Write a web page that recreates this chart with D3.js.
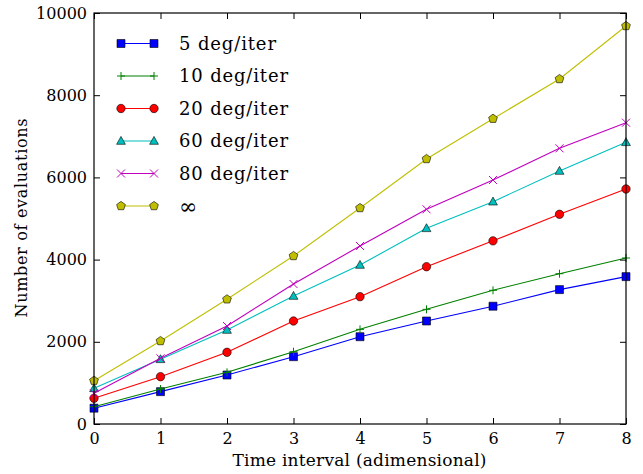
<!DOCTYPE html>
<html><head><meta charset="utf-8">
<script src="https://cdn.jsdelivr.net/npm/d3@7"></script>
<style>body{margin:0;background:#fff}svg text{font-family:"DejaVu Serif",serif;fill:#000}</style>
</head><body><svg id="c" width="643" height="474"></svg>
<script>
const xValues = [0,1,2,3,4,5,6,7,8];
const seriesNames = ["5 deg/iter","10 deg/iter","20 deg/iter","60 deg/iter","80 deg/iter","\u221E"];
const s5  = [385, 787, 1192, 1638, 2124, 2506, 2866, 3270, 3586];
const s10 = [421, 851, 1257, 1760, 2303, 2790, 3253, 3657, 4039];
const s20 = [625, 1151, 1744, 2506, 3098, 3827, 4456, 5102, 5718];
const s60 = [868, 1574, 2287, 3114, 3869, 4761, 5409, 6156, 6854];
const s80 = [747, 1598, 2384, 3406, 4331, 5224, 5937, 6708, 7331];
const sInf= [1054, 2019, 3034, 4088, 5255, 6448, 7428, 8394, 9684];
const xTicks = [0,1,2,3,4,5,6,7,8];
const yTicks = [0,2000,4000,6000,8000,10000];

const series = [s5,s10,s20,s60,s80,sInf];
const colors = ["#0000ff","#008000","#ff0000","#00bfbf","#bf00bf","#bfbf00"];
const markers = ["square","plus","circle","triangle","x","pentagon"];

const svg = d3.select("#c");
const m = {l:94, r:643-626, t:13, b:474-424};
const W = 643, H = 474;
const x = d3.scaleLinear().domain([0,8]).range([m.l, W-m.r]);
const y = d3.scaleLinear().domain([0,10000]).range([H-m.b, m.t]);

function markerPath(type){
  const s = 4;
  if(type==="square") return `M${-s},${-s}H${s}V${s}H${-s}Z`;
  if(type==="circle") return d3.symbol(d3.symbolCircle, Math.PI*4.2*4.2)();
  if(type==="triangle") return `M0,${-4.6}L${4.4},${3.3}L${-4.4},${3.3}Z`;
  if(type==="plus") return `M-4,0H4M0,-4V4`;
  if(type==="x") return `M-4,-4L4,4M-4,4L4,-4`;
  if(type==="pentagon"){
    const r=4.6; let p=[];
    for(let i=0;i<5;i++){const a=-Math.PI/2+i*2*Math.PI/5;p.push([r*Math.cos(a),r*Math.sin(a)]);}
    return "M"+p.map(d=>d.join(",")).join("L")+"Z";
  }
}
function drawMarker(g, type, color, cx, cy){
  const p = g.append("path").attr("d", markerPath(type)).attr("transform",`translate(${cx},${cy})`);
  if(type==="plus"||type==="x") p.attr("fill","none").attr("stroke",color).attr("stroke-width",1);
  else p.attr("fill",color).attr("stroke","#000").attr("stroke-width",0.6);
}

const plot = svg.append("g");
const line = d3.line().x((d,i)=>x(xValues[i])).y(d=>y(d));
series.forEach((s,k)=>{
  plot.append("path").datum(s).attr("d",line).attr("fill","none").attr("stroke",colors[k]).attr("stroke-width",1.1);
  s.forEach((v,i)=>drawMarker(plot, markers[k], colors[k], x(xValues[i]), y(v)));
});

// axes
const axB = svg.append("g").attr("transform",`translate(0,${y(0)})`)
  .call(d3.axisBottom(x).tickValues(xTicks).tickSize(-6).tickPadding(9).tickFormat(d3.format("d")));
const axT = svg.append("g").attr("transform",`translate(0,${y(10000)})`)
  .call(d3.axisTop(x).tickValues(xTicks).tickSize(-6).tickFormat(""));
const axL = svg.append("g").attr("transform",`translate(${x(0)},0)`)
  .call(d3.axisLeft(y).tickValues(yTicks).tickSize(-6).tickPadding(7).tickFormat(d3.format("d")));
const axR = svg.append("g").attr("transform",`translate(${x(8)},0)`)
  .call(d3.axisRight(y).tickValues(yTicks).tickSize(-6).tickFormat(""));
[axB,axT,axL,axR].forEach(a=>{
  a.select(".domain").remove();
  a.selectAll("line").attr("stroke","#000").attr("stroke-width",1);
  a.selectAll("text").attr("font-family","DejaVu Serif").attr("font-size",16);
});
svg.append("rect").attr("x",x(0)).attr("y",y(10000)).attr("width",x(8)-x(0)).attr("height",y(0)-y(10000))
  .attr("fill","none").attr("stroke","#000").attr("stroke-width",1.2);

svg.append("text").attr("x",(x(0)+x(8))/2 - 0.5).attr("y",466).attr("text-anchor","middle").attr("font-size",17)
  .attr("textLength",254).attr("lengthAdjust","spacing")
  .text("Time interval (adimensional)");
svg.append("text").attr("transform",`translate(27,${218}) rotate(-90)`).attr("text-anchor","middle").attr("font-size",16)
  .attr("textLength",199).attr("lengthAdjust","spacing")
  .text("Number of evaluations");

// legend
const legendWidths = [97,109,109,109,109,21];
const leg = svg.append("g");
seriesNames.forEach((n,k)=>{
  const ly = 43.5 + k*32.5;
  leg.append("line").attr("x1",121).attr("x2",154).attr("y1",ly).attr("y2",ly).attr("stroke",colors[k]).attr("stroke-width",1.1);
  drawMarker(leg, markers[k], colors[k], 121, ly);
  drawMarker(leg, markers[k], colors[k], 154, ly);
  const t = leg.append("text").attr("x",179).attr("y",ly).attr("dy","0.35em").attr("font-size", k===5?22:18).text(n);
  if(k<5) t.attr("textLength",legendWidths[k]).attr("lengthAdjust","spacing");
});
</script></body></html>
